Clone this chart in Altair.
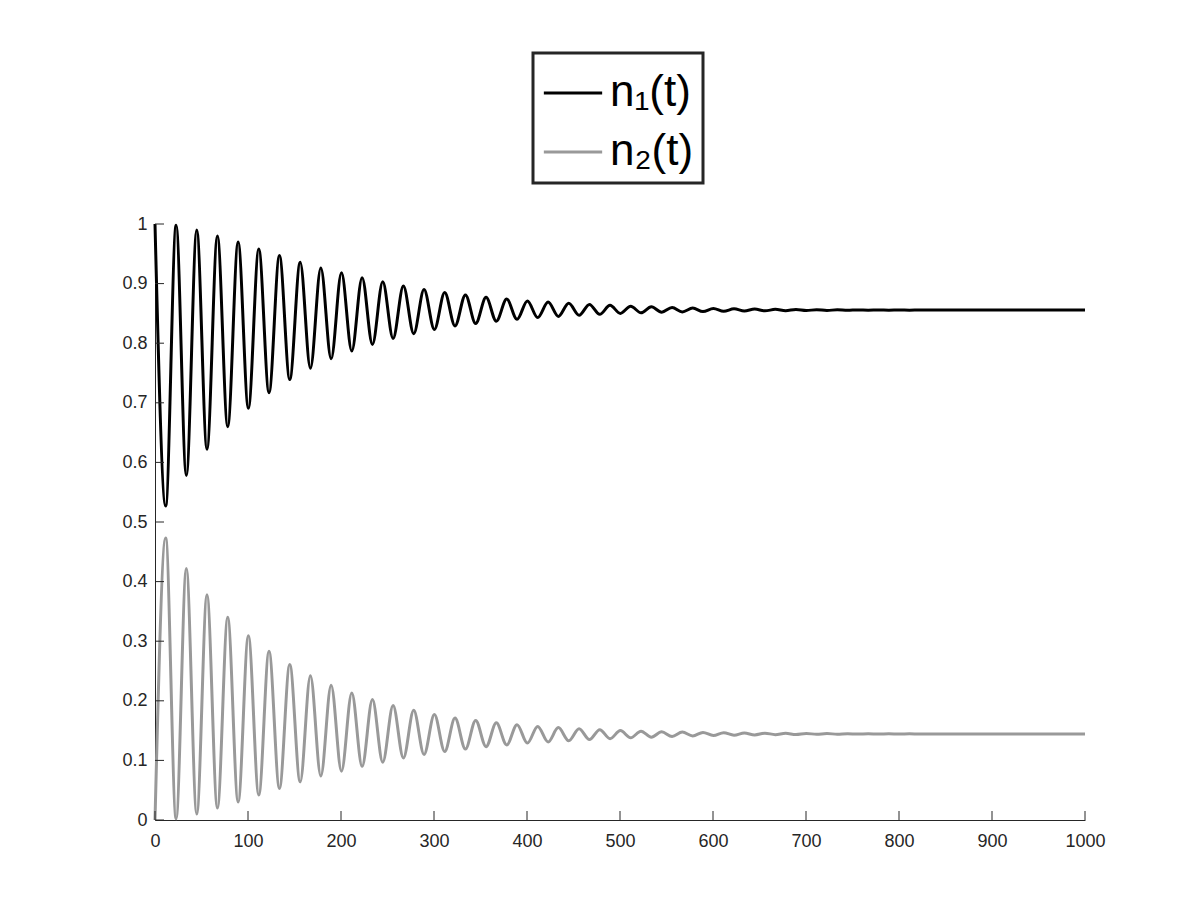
import altair as alt
import pandas as pd

# Times of the turning points (peaks / troughs)
t_ext = [
    0, 11.5, 22.7, 33.7, 44.9, 55.9, 67.1, 78.2, 89.4, 100.4,
    111.6, 122.6, 133.8, 144.9, 156.1, 167.1, 178.3, 189.4, 200.5, 211.6,
    222.7, 233.8, 244.9, 256.0, 267.1, 278.2, 289.3, 300.4, 311.5, 322.6,
    333.8, 344.8, 356.0, 367.0, 378.2, 389.3, 400.4, 411.5, 422.7, 433.7,
    444.9, 456.0, 467.1, 478.2, 489.3, 500.4, 511.5, 522.6, 533.7, 544.8,
    556.0, 567.0, 578.2, 589.2, 600.4, 611.5, 622.6, 633.7, 644.8, 655.9,
    667.0, 678.1, 689.2, 700.3, 711.4, 722.5, 733.6, 744.7, 755.8, 766.9,
    778.0, 789.1, 800.2, 811.3, 822.4, 833.5, 844.6, 855.7, 866.8, 877.9,
    889.0, 1000.0,
]

n1_ext = [
    1.000, 0.527, 0.998, 0.578, 0.990, 0.622, 0.980, 0.660, 0.970, 0.691,
    0.958, 0.717, 0.947, 0.739, 0.936, 0.758, 0.926, 0.774, 0.918, 0.787,
    0.910, 0.798, 0.903, 0.808, 0.896, 0.816, 0.890, 0.823, 0.885, 0.829,
    0.881, 0.833, 0.877, 0.837, 0.874, 0.840, 0.871, 0.843, 0.869, 0.845,
    0.867, 0.847, 0.865, 0.8485, 0.8635, 0.850, 0.862, 0.851, 0.861, 0.852,
    0.860, 0.8525, 0.859, 0.853, 0.8583, 0.8535, 0.8577, 0.8540, 0.8572, 0.8543,
    0.8568, 0.8546, 0.8565, 0.8548, 0.8562, 0.8550, 0.8560, 0.8552, 0.8558, 0.8553,
    0.8557, 0.8554, 0.8556, 0.8554, 0.8556, 0.8555, 0.8555, 0.8555, 0.8555, 0.8555,
    0.8555, 0.8555,
]

n2_ext = [
    0.000, 0.473, 0.002, 0.422, 0.010, 0.378, 0.020, 0.340, 0.030, 0.309,
    0.042, 0.283, 0.053, 0.261, 0.064, 0.242, 0.074, 0.226, 0.082, 0.213,
    0.090, 0.202, 0.097, 0.192, 0.104, 0.184, 0.110, 0.177, 0.115, 0.171,
    0.119, 0.167, 0.123, 0.163, 0.126, 0.160, 0.129, 0.157, 0.131, 0.155,
    0.133, 0.153, 0.135, 0.1515, 0.1365, 0.150, 0.138, 0.149, 0.139, 0.148,
    0.140, 0.1475, 0.141, 0.147, 0.1417, 0.1465, 0.1423, 0.1460, 0.1428, 0.1457,
    0.1432, 0.1454, 0.1435, 0.1452, 0.1438, 0.1450, 0.1440, 0.1448, 0.1442, 0.1447,
    0.1443, 0.1446, 0.1444, 0.1446, 0.1444, 0.1445, 0.1445, 0.1445, 0.1445, 0.1445,
    0.1445, 0.1445,
]

series_names = ["n\u2081(t)", "n\u2082(t)"]
series_colors = ["#000000", "#999999"]

x_ticks = [0, 100, 200, 300, 400, 500, 600, 700, 800, 900, 1000]
y_ticks = [0, 0.1, 0.2, 0.3, 0.4, 0.5, 0.6, 0.7, 0.8, 0.9, 1.0]

rows = []
for t, v in zip(t_ext, n1_ext):
    rows.append({"t": t, "v": v, "series": series_names[0]})
for t, v in zip(t_ext, n2_ext):
    rows.append({"t": t, "v": v, "series": series_names[1]})
df = pd.DataFrame(rows)

W, H = 930, 596
FONT = "Liberation Sans"
AX = "#262626"

x_scale = alt.Scale(domain=[0, 1000], nice=False, zero=False)
y_scale = alt.Scale(domain=[0, 1], nice=False, zero=False)

x_axis = alt.Axis(values=x_ticks, title=None, tickSize=0, labelPadding=12,
                  labelFontSize=18, labelFont=FONT, labelColor=AX,
                  labelFlush=False, labelOverlap=False,
                  domainColor=AX, domainWidth=1, grid=False,
                  labelExpr="format(datum.value, 'd')")
y_axis = alt.Axis(values=y_ticks, title=None, tickSize=0, labelPadding=8,
                  labelFontSize=18, labelFont=FONT, labelColor=AX,
                  labelFlush=False, labelOverlap=False,
                  domainColor=AX, domainWidth=1, grid=False,
                  labelExpr="format(datum.value, '.1~f')")

lines = alt.Chart(df).mark_line(interpolate="monotone", strokeWidth=3).encode(
    x=alt.X("t:Q", scale=x_scale, axis=x_axis),
    y=alt.Y("v:Q", scale=y_scale, axis=y_axis),
    color=alt.Color(
        "series:N",
        scale=alt.Scale(domain=series_names, range=series_colors),
        sort=series_names,
        legend=alt.Legend(
            orient="none", legendX=378, legendY=-171, title=None,
            symbolType="stroke", symbolSize=3400, symbolStrokeWidth=3,
            labelFontSize=44, labelFont=FONT, labelColor="#000000",
            labelOffset=6, padding=9, rowPadding=6,
            strokeColor=AX, fillColor="#ffffff",
        ),
    ),
)

ydf = pd.DataFrame({"tick": y_ticks})
xdf = pd.DataFrame({"tick": x_ticks})

yticks = alt.Chart(ydf).mark_rule(color=AX, strokeWidth=1).encode(
    y=alt.Y("tick:Q", scale=y_scale, axis=y_axis),
    x=alt.value(0), x2=alt.value(9),
)
xticks = alt.Chart(xdf).mark_rule(color=AX, strokeWidth=1).encode(
    x=alt.X("tick:Q", scale=x_scale, axis=x_axis),
    y=alt.value(H), y2=alt.value(H - 9),
)

chart = alt.layer(lines, yticks, xticks).properties(
    width=W, height=H,
    autosize=alt.AutoSizeParams(type="none"),
    padding={"left": 147, "top": 216, "right": 100, "bottom": 70},
).configure_view(stroke=None).configure_legend(strokeWidth=3)

chart.save("out.html", embed_options={"renderer": "svg", "actions": False})
